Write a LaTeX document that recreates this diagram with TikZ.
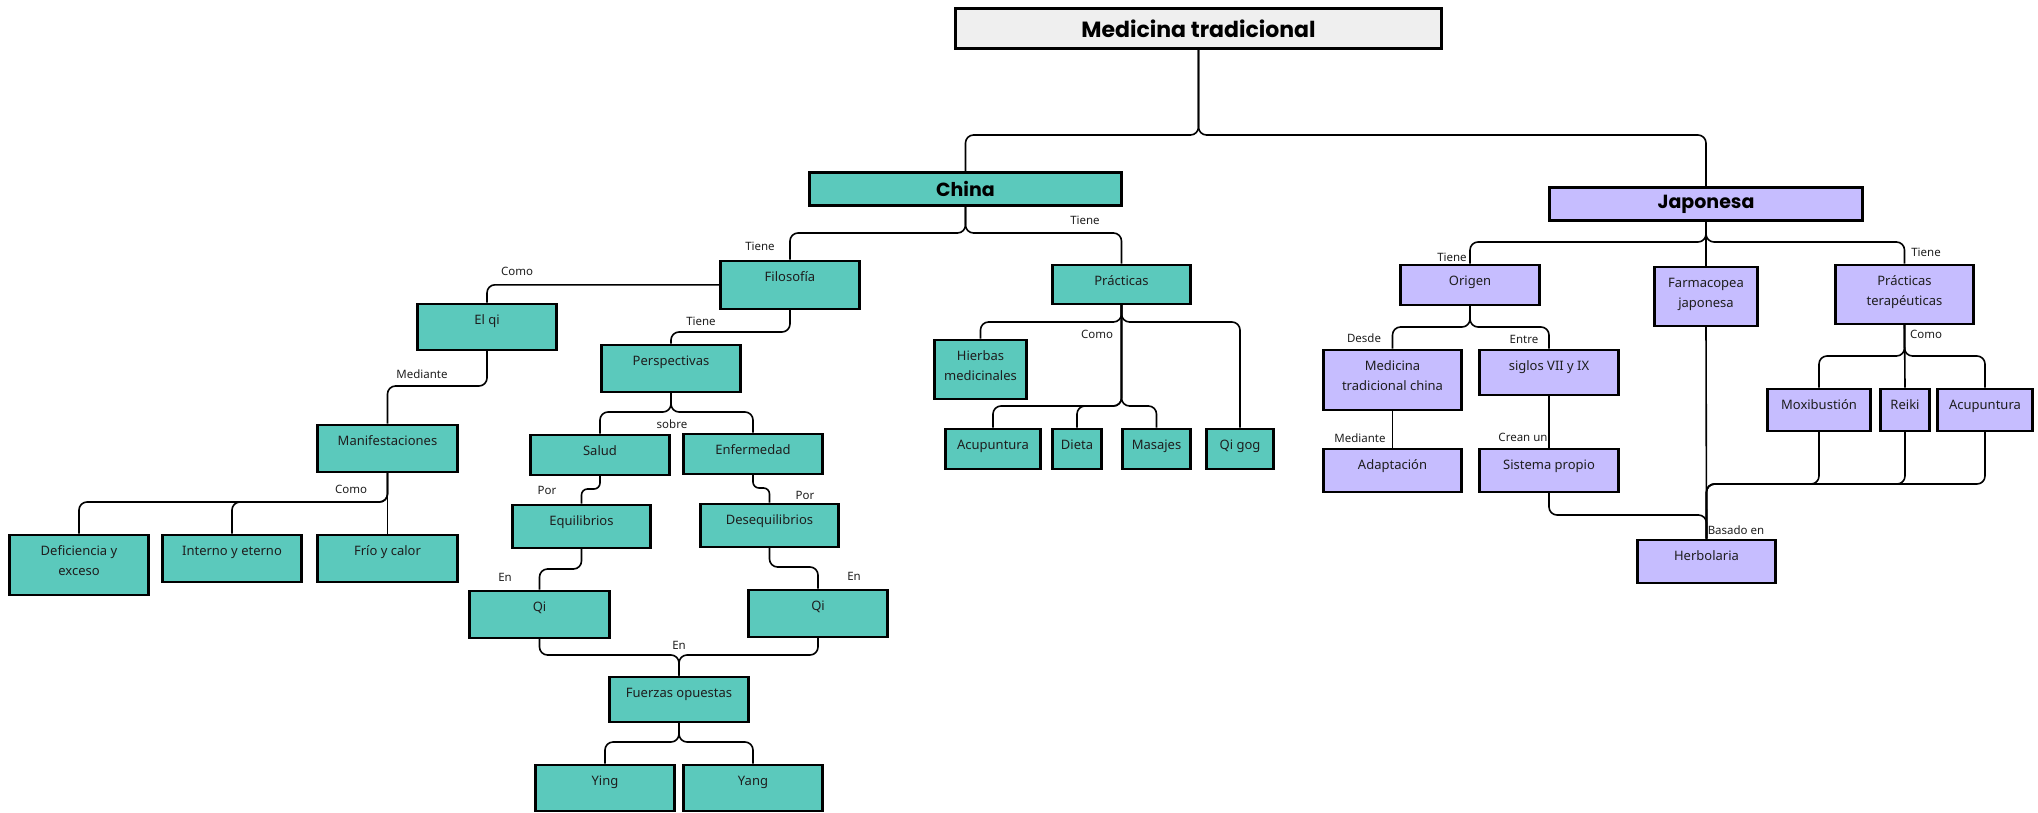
\documentclass[tikz,border=0pt]{standalone}
\usepackage{fontspec}
\setmainfont{Noto Sans}
\newfontfamily\titlefont{Poppins}
\definecolor{tealbox}{HTML}{5BC9BC}
\definecolor{lavbox}{HTML}{C6BDFF}
\definecolor{graybox}{HTML}{EFEFEF}
\definecolor{txt}{HTML}{1E1E1E}
\newcommand\twoline[2]{\begin{tabular}[t]{@{}c@{}}#1\\#2\end{tabular}}
\begin{document}
\begin{tikzpicture}[x=1pt,y=-1pt,
  box/.style={draw=black, line width=2.6pt, anchor=north, inner ysep=0pt, inner xsep=2pt,
    text height=21pt, font=\fontsize{13}{19.5}\selectfont, text=txt},
  tbox/.style={box, fill=tealbox},
  pbox/.style={box, fill=lavbox},
  head/.style={draw=black, line width=2.6pt, inner sep=0pt, text=black,
    font=\titlefont\bfseries\fontsize{19}{22}\selectfont},
  link/.style={draw=black, line width=1.6pt, rounded corners=8pt},
  lab/.style={font=\fontsize{11.5}{13}\selectfont, text=txt, inner sep=0pt}]
\useasboundingbox (0,0) rectangle (2038,812);

% headers
\node[head, fill=graybox, minimum width=486pt, minimum height=40pt,
  font=\titlefont\bfseries\fontsize{22}{24}\selectfont] (top) at (1198.5,28.5) {Medicina tradicional};
\node[head, fill=tealbox, minimum width=312pt, minimum height=33pt] (china) at (965.5,189) {China};
\node[head, fill=lavbox, minimum width=313pt, minimum height=33pt] (jap) at (1706,204) {Japonesa};

% China branch
\node[tbox, minimum width=139pt, text depth=27pt] (filo) at (790,259.5) {Filosofía};
\node[tbox, minimum width=139pt, text depth=25pt] (elqi) at (487,302.5) {El qi};
\node[tbox, minimum width=139pt, text depth=26pt] (persp) at (671,343.5) {Perspectivas};
\node[tbox, minimum width=140pt, text depth=26pt] (manif) at (387.5,423.5) {Manifestaciones};
\node[tbox, minimum width=139pt, text depth=19pt] (salud) at (600,433.5) {Salud};
\node[tbox, minimum width=139pt, text depth=19pt] (enf) at (753,432.5) {Enfermedad};
\node[tbox, minimum width=139pt, text depth=39pt] (defic) at (79,533.5) {\twoline{Deficiencia y}{exceso}};
\node[tbox, minimum width=139pt, text depth=26pt] (interno) at (232,533.5) {Interno y eterno};
\node[tbox, minimum width=140pt, text depth=26pt] (frio) at (387.5,533.5) {Frío y calor};
\node[tbox, minimum width=138pt, text depth=22pt] (equil) at (581.5,503.5) {Equilibrios};
\node[tbox, minimum width=138pt, text depth=22pt] (deseq) at (769.5,502.5) {Desequilibrios};
\node[tbox, minimum width=140pt, text depth=26pt] (qil) at (539.5,589.5) {Qi};
\node[tbox, minimum width=139pt, text depth=26pt] (qir) at (818,588.5) {Qi};
\node[tbox, minimum width=139pt, text depth=24pt] (fuerzas) at (679,675.5) {Fuerzas opuestas};
\node[tbox, minimum width=139pt, text depth=25pt] (ying) at (605,763.5) {Ying};
\node[tbox, minimum width=139pt, text depth=25pt] (yang) at (753,763.5) {Yang};
\node[tbox, minimum width=138pt, text depth=18pt] (pracC) at (1121.5,263.5) {Prácticas};
\node[tbox, minimum width=92pt, text depth=38pt] (hierbas) at (980.5,338.5) {\twoline{Hierbas}{medicinales}};
\node[tbox, minimum width=95pt, text depth=19pt] (acuC) at (993,427.5) {Acupuntura};
\node[tbox, minimum width=49pt, text depth=19pt] (dieta) at (1077,427.5) {Dieta};
\node[tbox, minimum width=68pt, text depth=19pt] (masajes) at (1156.5,427.5) {Masajes};
\node[tbox, minimum width=67pt, text depth=19pt] (qigog) at (1240,427.5) {Qi gog};

% Japan branch
\node[pbox, minimum width=139pt, text depth=19pt] (origen) at (1470,263.5) {Origen};
\node[pbox, minimum width=103pt, text depth=38pt] (farma) at (1706,265.5) {\twoline{Farmacopea}{japonesa}};
\node[pbox, minimum width=138pt, text depth=38pt] (pt) at (1904.5,263.5) {\twoline{Prácticas}{terapéuticas}};
\node[pbox, minimum width=138pt, text depth=39pt] (mtc) at (1392.5,348.5) {\twoline{Medicina}{tradicional china}};
\node[pbox, minimum width=139pt, text depth=24pt] (siglos) at (1549,348.5) {siglos VII y IX};
\node[pbox, minimum width=138pt, text depth=22pt] (adapt) at (1392.5,447.5) {Adaptación};
\node[pbox, minimum width=139pt, text depth=22pt] (sistema) at (1549,447.5) {Sistema propio};
\node[pbox, minimum width=138pt, text depth=22pt] (herbo) at (1706.5,538.5) {Herbolaria};
\node[pbox, minimum width=103pt, text depth=21pt] (moxi) at (1819,387.5) {Moxibustión};
\node[pbox, minimum width=49pt, text depth=21pt] (reiki) at (1905,387.5) {Reiki};
\node[pbox, minimum width=95pt, text depth=21pt] (acuJ) at (1985,387.5) {Acupuntura};

% connectors
\draw[link] (top.south) -- (top.south |- 0,135) -| (china.north);
\draw[link] (top.south) -- (top.south |- 0,135) -| (jap.north);
\draw[link] (china.south) -- (china.south |- 0,233) -| (filo.north);
\draw[link] (china.south) -- (china.south |- 0,233) -| (pracC.north);
\draw[link] (filo.west) -| (elqi.north);
\draw[link] (filo.south) -- (filo.south |- 0,332) -| (persp.north);
\draw[link] (elqi.south) -- (elqi.south |- 0,386) -| (manif.north);
\draw[link] (manif.south) -- (manif.south |- 0,502) -| (defic.north);
\draw[link] (manif.south) -- (manif.south |- 0,502) -| (interno.north);
\draw[link] (manif.south) -- (frio.north);
\draw[link] (persp.south) -- (persp.south |- 0,412) -| (salud.north);
\draw[link] (persp.south) -- (persp.south |- 0,412) -| (enf.north);
\draw[link, rounded corners=6pt] (salud.south) -- (salud.south |- 0,489) -| (equil.north);
\draw[link, rounded corners=6pt] (enf.south) -- (enf.south |- 0,488) -| (deseq.north);
\draw[link] (equil.south) -- (equil.south |- 0,569) -| (qil.north);
\draw[link] (deseq.south) -- (deseq.south |- 0,567) -| (qir.north);
\draw[link] (qil.south) -- (qil.south |- 0,655) -| (fuerzas.north);
\draw[link] (qir.south) -- (qir.south |- 0,655) -| (fuerzas.north);
\draw[link] (fuerzas.south) -- (fuerzas.south |- 0,742) -| (ying.north);
\draw[link] (fuerzas.south) -- (fuerzas.south |- 0,742) -| (yang.north);
\draw[link] (pracC.south) -- (pracC.south |- 0,322) -| (hierbas.north);
\draw[link] (pracC.south) -- (pracC.south |- 0,322) -| (qigog.north);
\draw[link] (pracC.south) -- (pracC.south |- 0,406) -| (acuC.north);
\draw[link] (pracC.south) -- (pracC.south |- 0,406) -| (dieta.north);
\draw[link] (pracC.south) -- (pracC.south |- 0,406) -| (masajes.north);
\draw[link] (jap.south) -- (jap.south |- 0,242) -| (origen.north);
\draw[link] (jap.south) -- (farma.north);
\draw[link] (jap.south) -- (jap.south |- 0,242) -| (pt.north);
\draw[link] (origen.south) -- (origen.south |- 0,327) -| (mtc.north);
\draw[link] (origen.south) -- (origen.south |- 0,327) -| (siglos.north);
\draw[link] (mtc.south) -- (adapt.north);
\draw[link] (siglos.south) -- (sistema.north);
\draw[link] (pt.south) -- (pt.south |- 0,356) -| (moxi.north);
\draw[link] (pt.south) -- (reiki.north);
\draw[link] (pt.south) -- (pt.south |- 0,356) -| (acuJ.north);
\draw[link] (farma.south) -- (herbo.north);
\draw[link] (sistema.south) -- (sistema.south |- 0,515) -| (herbo.north);
\draw[link] (moxi.south) -- (moxi.south |- 0,484) -| (herbo.north);
\draw[link] (reiki.south) -- (reiki.south |- 0,484) -| (herbo.north);
\draw[link] (acuJ.south) -- (acuJ.south |- 0,484) -| (herbo.north);

% labels
\node[lab] (l1) at (760,246) {Tiene};
\node[lab] (l2) at (1085,220) {Tiene};
\node[lab] (l3) at (517,271) {Como};
\node[lab] (l4) at (701,321) {Tiene};
\node[lab] (l5) at (422,374) {Mediante};
\node[lab] (l6) at (351,489) {Como};
\node[lab] (l7) at (672,424) {sobre};
\node[lab] (l8) at (547,490) {Por};
\node[lab] (l9) at (805,495) {Por};
\node[lab] (l10) at (505,577) {En};
\node[lab] (l11) at (854,576) {En};
\node[lab] (l12) at (679,645) {En};
\node[lab] (l13) at (1097,334) {Como};
\node[lab] (l14) at (1452,257) {Tiene};
\node[lab] (l15) at (1926,252) {Tiene};
\node[lab] (l16) at (1364,338) {Desde};
\node[lab] (l17) at (1524,339) {Entre};
\node[lab] (l18) at (1360,438) {Mediante};
\node[lab] (l19) at (1523,437) {Crean un};
\node[lab] (l20) at (1736,530) {Basado en};
\node[lab] (l21) at (1926,334) {Como};
\end{tikzpicture}
\end{document}
